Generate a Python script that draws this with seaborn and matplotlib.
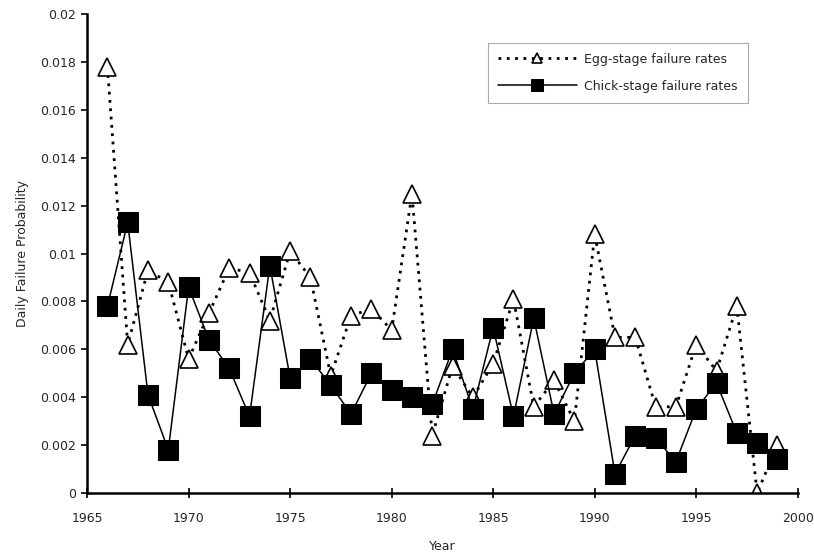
import matplotlib
matplotlib.use("Agg")
import matplotlib.pyplot as plt
import seaborn as sns
import numpy as np
import pandas as pd

years = list(range(1966, 2000))
egg_rates = [0.0178, 0.0062, 0.0093, 0.0088, 0.0056, 0.0075, 0.0094, 0.0092, 0.0072, 0.0101,
             0.0090, 0.0049, 0.0074, 0.0077, 0.0068, 0.0125, 0.0024, 0.0053, 0.0040, 0.0054,
             0.0081, 0.0036, 0.0047, 0.0030, 0.0108, 0.0065, 0.0065, 0.0036, 0.0036, 0.0062,
             0.0051, 0.0078, 0.0000, 0.0020]
chick_rates = [0.0078, 0.0113, 0.0041, 0.0018, 0.0086, 0.0064, 0.0052, 0.0032, 0.0095, 0.0048,
               0.0056, 0.0045, 0.0033, 0.0050, 0.0043, 0.0040, 0.0037, 0.0060, 0.0035, 0.0069,
               0.0032, 0.0073, 0.0033, 0.0050, 0.0060, 0.0008, 0.0024, 0.0023, 0.0013, 0.0035,
               0.0046, 0.0025, 0.0021, 0.0014]
series_names = ["Egg-stage failure rates", "Chick-stage failure rates"]
x_ticks = [1965, 1970, 1975, 1980, 1985, 1990, 1995, 2000]
y_ticks = [0, 0.002, 0.004, 0.006, 0.008, 0.01, 0.012, 0.014, 0.016, 0.018, 0.02]
y_tick_labels = ["0", "0.002", "0.004", "0.006", "0.008", "0.01", "0.012", "0.014", "0.016", "0.018", "0.02"]

sns.set_style("ticks")
plt.rcParams['font.family'] = ['DejaVu Sans']

fig = plt.figure(figsize=(8.14, 5.53), dpi=100)
ax = fig.add_axes([0.107, 0.1085, 0.873, 0.866])

df_egg = pd.DataFrame({"Year": years, "rate": egg_rates})
df_chick = pd.DataFrame({"Year": years, "rate": chick_rates})

sns.lineplot(data=df_egg, x="Year", y="rate", ax=ax, estimator=None, sort=False,
             color="black", linestyle=(0, (1, 2)), linewidth=2.0,
             marker="^", markersize=13, markerfacecolor="white",
             markeredgecolor="black", markeredgewidth=1.2, label=series_names[0], zorder=2)
sns.lineplot(data=df_chick, x="Year", y="rate", ax=ax, estimator=None, sort=False,
             color="black", linestyle="-", linewidth=1.1,
             marker="s", markersize=15, markerfacecolor="black",
             markeredgecolor="black", label=series_names[1], zorder=3)

ax.set_xlim(1965, 2000)
ax.set_ylim(0, 0.02)
ax.set_xticks(x_ticks)
ax.set_xticklabels([str(t) for t in x_ticks], fontsize=9)
ax.set_yticks(y_ticks)
ax.set_yticklabels(y_tick_labels, fontsize=9)
ax.tick_params(axis='y', direction='out', length=4, width=1.2, color='black', pad=4)
ax.tick_params(axis='x', direction='inout', length=7, width=1.2, color='black', pad=10)
for s in ['top', 'right']:
    ax.spines[s].set_visible(False)
for s in ['left', 'bottom']:
    ax.spines[s].set_linewidth(1.8)
    ax.spines[s].set_color('black')
ax.set_xlabel("Year", fontsize=9, labelpad=11)
ax.set_ylabel("Daily Failure Probability", fontsize=9, labelpad=8)

leg = ax.legend(loc='upper left', bbox_to_anchor=(0.564, 0.94), fontsize=9,
                frameon=True, fancybox=False, edgecolor='#aaaaaa', framealpha=1,
                handlelength=6.3, handletextpad=0.6, markerscale=0.55,
                borderpad=0.8, labelspacing=1.1, borderaxespad=0)
leg.get_frame().set_linewidth(0.8)

fig.savefig("out.png", dpi=100)
